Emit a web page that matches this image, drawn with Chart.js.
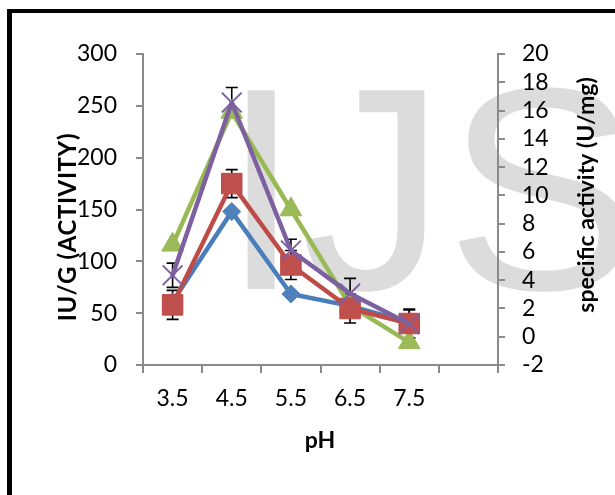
<!DOCTYPE html>
<html>
<head>
<meta charset="utf-8">
<script src="https://cdn.jsdelivr.net/npm/chart.js@4/dist/chart.umd.min.js"></script>
<style>
  html, body { margin: 0; padding: 0; background: #fff; }
  #wrap { position: relative; width: 615px; height: 495px; overflow: hidden; }
</style>
</head>
<body>
<div id="wrap"><canvas id="c" width="615" height="495"></canvas></div>
<script>
// --- data
const phLabels = ["3.5", "4.5", "5.5", "6.5", "7.5", ""];
// IU/G (left axis)
const blueActivity = [61, 148, 68.5, 57, 41];
const redActivity = [58, 175, 96.5, 54.5, 40];
const redError = [14, 13.5, 14, 14, 14];
// specific activity U/mg (right axis)
const greenSpecific = [6.5, 15.9, 9.0, 2.2, -0.4];
const purpleSpecific = [4.35, 16.57, 6.1, 3.05, 0.9];
const purpleError = [0.86, 1.06, 0.8, 1.08, 1.0];

const leftTicks = { min: 0, max: 300, step: 50 };
const rightTicks = { min: -2, max: 20, step: 2 };

const AXIS_GREY = "#8a8a8a";
const FONT = "Lato";

/* === frame + watermark behind everything */
const backdropPlugin = {
  id: "backdrop",
  beforeDraw(chart) {
    const ctx = chart.ctx;
    ctx.save();
    ctx.fillStyle = "#000";
    ctx.fillRect(7, 9, 5, 495);
    ctx.fillRect(7, 9, 615, 4);
    ctx.fillStyle = "#dcdcdc";
    ctx.font = "289px 'Liberation Sans'";
    ctx.textBaseline = "alphabetic";
    ctx.fillText("IJS", 221, 289);
    ctx.restore();
  }
};

/* === error bars (drawn behind the series) */
const errorBarPlugin = {
  id: "errorBars",
  beforeDatasetsDraw(chart) {
    const ctx = chart.ctx;
    ctx.save();
    ctx.strokeStyle = "#000";
    ctx.lineWidth = 1.6;
    chart.data.datasets.forEach((ds, i) => {
      if (!ds.errorBars) return;
      const meta = chart.getDatasetMeta(i);
      const scale = chart.scales[ds.yAxisID];
      meta.data.forEach((pt, j) => {
        const err = ds.errorBars[j];
        if (err == null) return;
        const v = ds.data[j];
        const yTop = scale.getPixelForValue(v + err);
        const yBot = scale.getPixelForValue(v - err);
        ctx.beginPath();
        ctx.moveTo(pt.x, yTop);
        ctx.lineTo(pt.x, yBot);
        ctx.moveTo(pt.x - 6, yTop);
        ctx.lineTo(pt.x + 6, yTop);
        ctx.moveTo(pt.x - 6, yBot);
        ctx.lineTo(pt.x + 6, yBot);
        ctx.stroke();
      });
    });
    ctx.restore();
  }
};

/* === rotated axis titles, both reading bottom-to-top */
const axisTitlePlugin = {
  id: "axisTitles",
  afterDraw(chart) {
    const ctx = chart.ctx;
    ctx.save();
    ctx.fillStyle = "#000";
    ctx.textAlign = "center";
    ctx.textBaseline = "middle";

    ctx.save();
    ctx.font = "bold 24px " + FONT;
    ctx.letterSpacing = "0.6px";
    ctx.translate(68, 227);
    ctx.rotate(-Math.PI / 2);
    ctx.fillText("IU/G (ACTIVITY)", 0, 0);
    ctx.restore();

    ctx.save();
    ctx.font = "bold 23px " + FONT;
    ctx.translate(587, 195);
    ctx.rotate(-Math.PI / 2);
    // ZWNJ keeps "f" and "i" apart (no ligature)
    ctx.fillText("speci\u200Cfic activity (U/mg)", 0, 0);
    ctx.restore();

    ctx.font = "bold 23px " + FONT;
    ctx.fillText("pH", 320, 441);
    ctx.restore();
  }
};

const lineDefaults = {
  borderWidth: 4.5,
  borderJoinStyle: "round",
  borderCapStyle: "round",
  tension: 0,
  pointBorderWidth: 1
};

const data = {
  labels: phLabels,
  datasets: [
    {
      ...lineDefaults,
      label: "blue",
      data: blueActivity,
      yAxisID: "y",
      borderColor: "#4a7ebb",
      pointStyle: "rectRot",
      pointRadius: 9,
      pointBackgroundColor: "#4f81bd",
      pointBorderColor: "#4a7ebb",
      order: 2
    },
    {
      ...lineDefaults,
      label: "red",
      data: redActivity,
      errorBars: redError,
      yAxisID: "y",
      borderColor: "#be4b48",
      pointStyle: "rect",
      pointRadius: 14.5,
      pointBackgroundColor: "#c0504d",
      pointBorderColor: "#be4b48",
      order: 1
    },
    {
      ...lineDefaults,
      label: "green",
      data: greenSpecific,
      yAxisID: "y1",
      borderColor: "#98b954",
      pointStyle: "triangle",
      pointRadius: 12.5,
      pointBackgroundColor: "#9bbb59",
      pointBorderColor: "#98b954",
      order: 3
    },
    {
      ...lineDefaults,
      label: "purple",
      data: purpleSpecific,
      errorBars: purpleError,
      yAxisID: "y1",
      borderColor: "#7d60a0",
      pointStyle: "crossRot",
      pointRadius: 14,
      pointBorderWidth: 2,
      pointBorderColor: "#7d60a0",
      order: 0
    }
  ]
};

const tickFont = { family: FONT, size: 23 };

new Chart(document.getElementById("c"), {
  type: "line",
  data,
  options: {
    responsive: false,
    animation: false,
    devicePixelRatio: 1,
    layout: { padding: { top: 54, left: 0, right: 0, bottom: 0 } },
    plugins: {
      legend: { display: false },
      tooltip: { enabled: false },
      title: { display: false }
    },
    scales: {
      x: {
        type: "category",
        offset: true,
        afterFit: s => { s.height = 130; },
        grid: {
          offset: true,
          drawOnChartArea: false,
          color: AXIS_GREY,
          lineWidth: 2,
          tickLength: 8
        },
        border: { color: AXIS_GREY, width: 2 },
        ticks: { font: tickFont, color: "#000", padding: 12, maxRotation: 0, autoSkip: false }
      },
      y: {
        position: "left",
        min: leftTicks.min,
        max: leftTicks.max,
        afterFit: s => { s.width = 143; },
        grid: { drawOnChartArea: false, color: AXIS_GREY, lineWidth: 2, tickLength: 7 },
        border: { color: AXIS_GREY, width: 2 },
        ticks: { stepSize: leftTicks.step, font: tickFont, color: "#000", padding: 19, autoSkip: false }
      },
      y1: {
        position: "right",
        min: rightTicks.min,
        max: rightTicks.max,
        afterFit: s => { s.width = 117; },
        grid: { drawOnChartArea: false, color: AXIS_GREY, lineWidth: 2, tickLength: 7 },
        border: { color: AXIS_GREY, width: 2 },
        ticks: { stepSize: rightTicks.step, font: tickFont, color: "#000", padding: 17, autoSkip: false }
      }
    }
  },
  plugins: [backdropPlugin, errorBarPlugin, axisTitlePlugin]
});
</script>
</body>
</html>
